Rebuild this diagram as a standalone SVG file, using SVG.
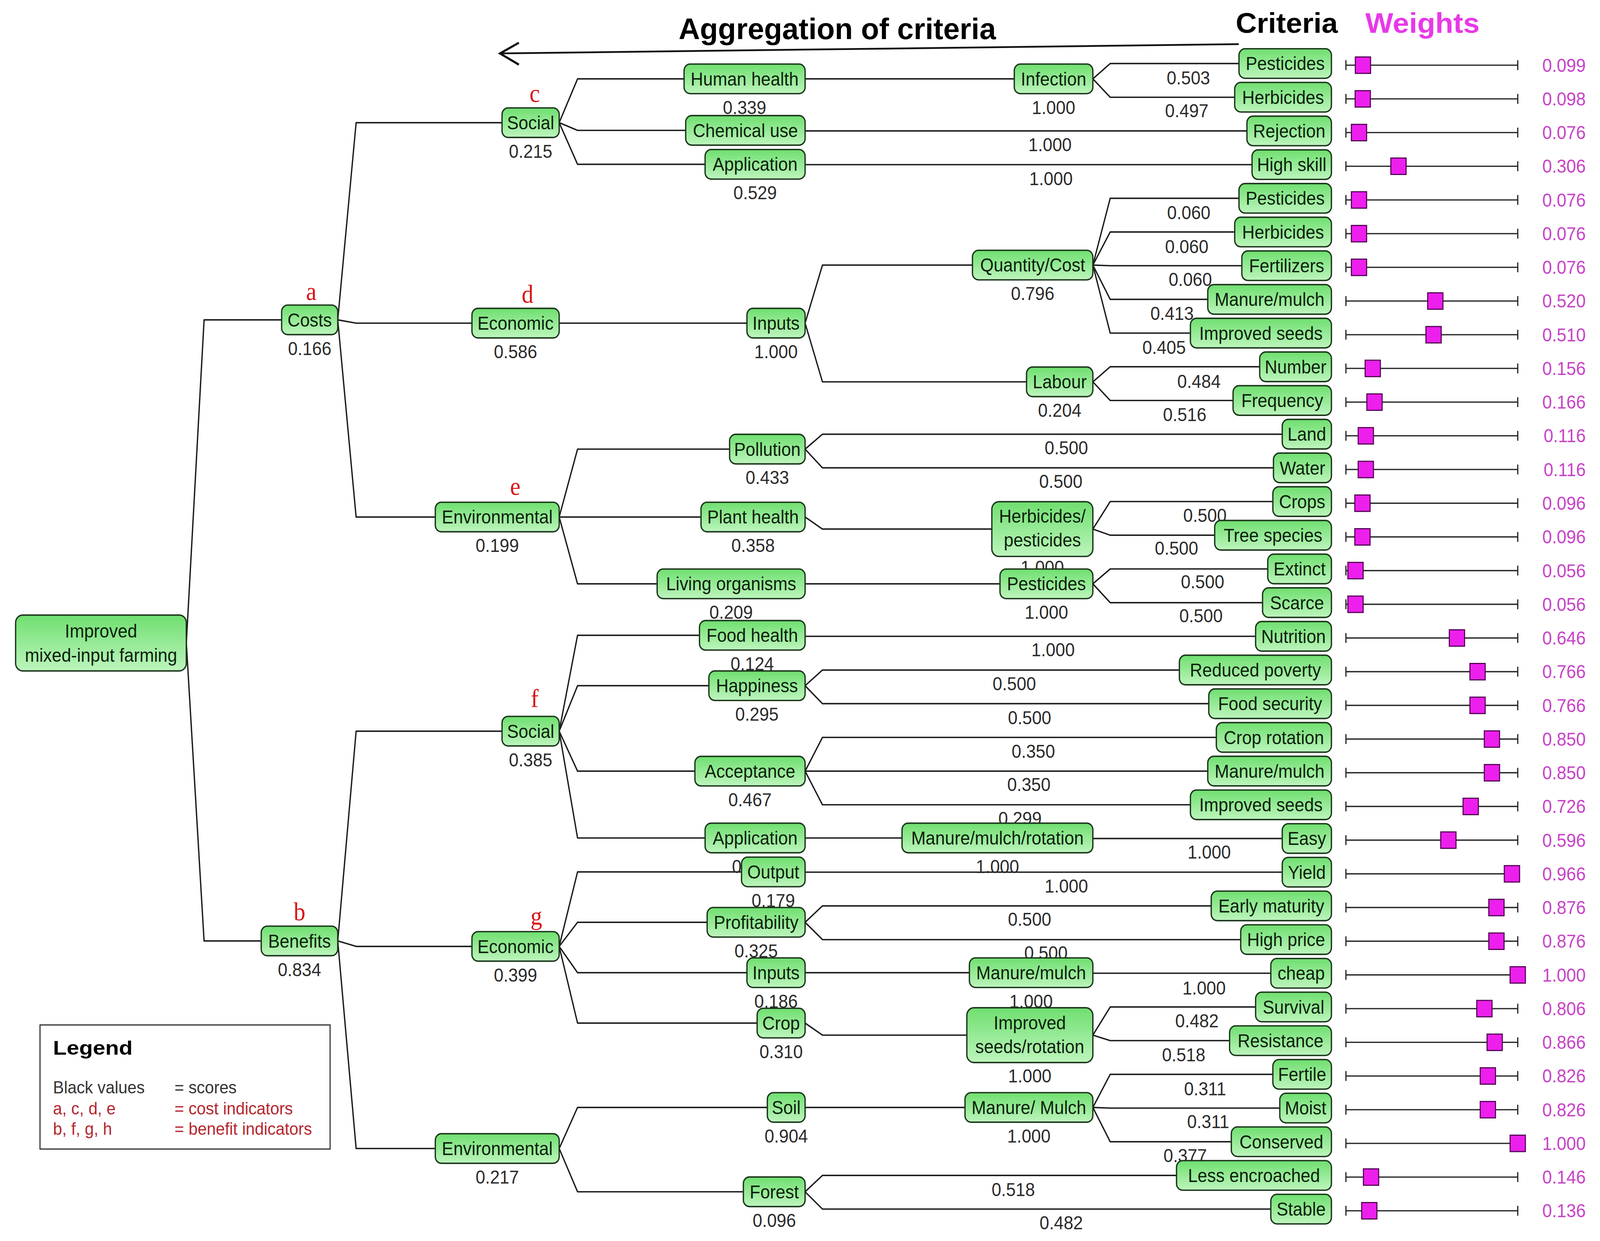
<svg xmlns="http://www.w3.org/2000/svg" xmlns:xlink="http://www.w3.org/1999/xlink" width="4397" height="3177" viewBox="0 0 4397 3177" preserveAspectRatio="none">
<defs>
<linearGradient id="g" x1="0" y1="0" x2="0" y2="1">
<stop offset="0" stop-color="#6fdf6f"/>
<stop offset="1" stop-color="#bdf5bd"/>
</linearGradient>
<g id="bl" class="bar">
<line x1="1319" y1="0" x2="1487.4" y2="0"/>
<line x1="1319" y1="-4.5" x2="1319" y2="4.5"/>
<line x1="1487.4" y1="-4.5" x2="1487.4" y2="4.5"/>
</g>
</defs>
<style>
:root{width:100%;height:100%}
.c{fill:none;stroke:#1b1b1b;stroke-width:1.3;stroke-linejoin:round}
.b{fill:url(#g);stroke:#1d361d;stroke-width:1.3}
.t{font-family:"Liberation Sans",Arial,sans-serif;font-size:17px;fill:#0c1f0c;text-anchor:middle}
.v{font-family:"Liberation Sans",Arial,sans-serif;font-size:17px;fill:#2b2b2b;text-anchor:middle}
.w{font-family:"Liberation Sans",Arial,sans-serif;font-size:17px;fill:#c843c8;text-anchor:end}
.r{font-family:"Liberation Serif","Times New Roman",serif;font-size:23px;fill:#d81414;text-anchor:middle}
.bar line{stroke:#2a2a2a;stroke-width:1.2}
.sq{fill:#ec1fec;stroke:#4d004d;stroke-width:1}
.h{font-family:"Liberation Sans",Arial,sans-serif;font-weight:bold}
.lg{font-family:"Liberation Sans",Arial,sans-serif;font-size:16px}
</style>
<rect x="0" y="0" width="4397" height="3177" fill="#ffffff"/>
<g transform="scale(2.80421)">

<g id="headers">
<text class="h" x="665" y="35.5" font-size="27" textLength="311" lengthAdjust="spacingAndGlyphs">Aggregation of criteria</text>
<text class="h" x="1211" y="30" font-size="26" textLength="100" lengthAdjust="spacingAndGlyphs">Criteria</text>
<text class="h" x="1338" y="30" font-size="26" fill="#e838e8" textLength="112" lengthAdjust="spacingAndGlyphs">Weights</text>
<path d="M1214,40.3 L490,48.8" fill="none" stroke="#111" stroke-width="1.6"/>
<path d="M508.5,39 L490,48.8 L508.5,59" fill="none" stroke="#111" stroke-width="2"/>
</g>

<g id="connectors">
<path class="c" d="M182.6,587 L200,292 L276,292"/>
<path class="c" d="M182.6,587 L200,859 L256,859"/>
<path class="c" d="M331,292 L349,112 L492,112"/>
<path class="c" d="M331,292 L349,295 L462.5,295"/>
<path class="c" d="M331,292 L349,472 L426.6,472"/>
<path class="c" d="M331,859 L349,667.5 L492,667.5"/>
<path class="c" d="M331,859 L349,864 L462.5,864"/>
<path class="c" d="M331,859 L349,1048.5 L426.6,1048.5"/>
<path class="c" d="M548,112 L566,72 L670.4,72"/>
<path class="c" d="M548,112 L566,119 L672,119"/>
<path class="c" d="M548,112 L566,150 L691,150"/>
<path class="c" d="M548,295 L732,295"/>
<path class="c" d="M548,472 L566,410 L715,410"/>
<path class="c" d="M548,472 L687,472"/>
<path class="c" d="M548,472 L566,533 L644,533"/>
<path class="c" d="M548,667.5 L566,580 L685.5,580"/>
<path class="c" d="M548,667.5 L566,626 L694.7,626"/>
<path class="c" d="M548,667.5 L566,704 L681,704"/>
<path class="c" d="M548,667.5 L566,765 L691,765"/>
<path class="c" d="M548,864 L566,796 L726.7,796"/>
<path class="c" d="M548,864 L566,842 L693,842"/>
<path class="c" d="M548,864 L566,888 L732,888"/>
<path class="c" d="M548,864 L566,934 L742,934"/>
<path class="c" d="M548,1048.5 L566,1011 L752,1011"/>
<path class="c" d="M548,1048.5 L566,1088 L728.5,1088"/>
<path class="c" d="M789,72 L994,72"/>
<path class="c" d="M789,119.5 L1222,119.5"/>
<path class="c" d="M789,150.3 L1227,150.3"/>
<path class="c" d="M789,295 L806,242 L953,242"/>
<path class="c" d="M789,295 L806,348.6 L1006,348.6"/>
<path class="c" d="M789,410 L806,396.4 L1256.6,396.4"/>
<path class="c" d="M789,410 L806,427.1 L1248,427.1"/>
<path class="c" d="M789,472 L806,483 L972,483"/>
<path class="c" d="M789,533 L980,533"/>
<path class="c" d="M789,580.9 L1230.5,580.9"/>
<path class="c" d="M789,626 L806,611.7 L1155.8,611.7"/>
<path class="c" d="M789,626 L806,642.4 L1184.6,642.4"/>
<path class="c" d="M789,704 L806,673.2 L1192,673.2"/>
<path class="c" d="M789,704 L1183.6,704"/>
<path class="c" d="M789,704 L806,734.7 L1166.6,734.7"/>
<path class="c" d="M789,765 L884,765"/>
<path class="c" d="M789,796.2 L1256.6,796.2"/>
<path class="c" d="M789,842 L806,827 L1187,827"/>
<path class="c" d="M789,842 L806,857.8 L1215.9,857.8"/>
<path class="c" d="M789,888 L950,888"/>
<path class="c" d="M789,934 L806,945 L947.5,945"/>
<path class="c" d="M789,1011 L945.7,1011"/>
<path class="c" d="M789,1088 L806,1073.1 L1153,1073.1"/>
<path class="c" d="M789,1088 L806,1103.8 L1245.4,1103.8"/>
<path class="c" d="M1071,72 L1088,58 L1214.2,58"/>
<path class="c" d="M1071,72 L1088,88.8 L1210,88.8"/>
<path class="c" d="M1071,242 L1088,181 L1214.2,181"/>
<path class="c" d="M1071,242 L1088,211.8 L1210,211.8"/>
<path class="c" d="M1071,242 L1088,242.6 L1217,242.6"/>
<path class="c" d="M1071,242 L1088,273.3 L1183.6,273.3"/>
<path class="c" d="M1071,242 L1088,304.1 L1166.6,304.1"/>
<path class="c" d="M1071,348.6 L1088,334.8 L1234.5,334.8"/>
<path class="c" d="M1071,348.6 L1088,365.6 L1208.4,365.6"/>
<path class="c" d="M1071,483 L1088,457.9 L1247.4,457.9"/>
<path class="c" d="M1071,483 L1088,488.6 L1190.4,488.6"/>
<path class="c" d="M1071,533 L1088,519.4 L1242.4,519.4"/>
<path class="c" d="M1071,533 L1088,550.2 L1237.3,550.2"/>
<path class="c" d="M1071,765.5 L1256.6,765.5"/>
<path class="c" d="M1071,888.5 L1245.4,888.5"/>
<path class="c" d="M1071,945 L1088,919.3 L1230.5,919.3"/>
<path class="c" d="M1071,945 L1088,950 L1205,950"/>
<path class="c" d="M1071,1011 L1088,980.8 L1247.4,980.8"/>
<path class="c" d="M1071,1011 L1088,1011.6 L1254.2,1011.6"/>
<path class="c" d="M1071,1011 L1088,1042.3 L1206.7,1042.3"/>
</g>

<g id="connector-labels">
<text class="v" x="1164.6" y="77">0.503</text>
<text class="v" x="1163" y="107">0.497</text>
<text class="v" x="1029" y="138">1.000</text>
<text class="v" x="1030" y="169">1.000</text>
<text class="v" x="1165" y="200">0.060</text>
<text class="v" x="1163" y="231">0.060</text>
<text class="v" x="1166.5" y="261">0.060</text>
<text class="v" x="1148.6" y="292">0.413</text>
<text class="v" x="1140.8" y="323">0.405</text>
<text class="v" x="1175" y="354">0.484</text>
<text class="v" x="1161" y="384.6">0.516</text>
<text class="v" x="1045" y="414.6">0.500</text>
<text class="v" x="1039.6" y="445.4">0.500</text>
<text class="v" x="1180.8" y="476.4">0.500</text>
<text class="v" x="1153" y="506.4">0.500</text>
<text class="v" x="1178.5" y="537">0.500</text>
<text class="v" x="1177" y="568">0.500</text>
<text class="v" x="1032" y="599">1.000</text>
<text class="v" x="994" y="630">0.500</text>
<text class="v" x="1009" y="661">0.500</text>
<text class="v" x="1012.7" y="691.7">0.350</text>
<text class="v" x="1008.3" y="722">0.350</text>
<text class="v" x="999.6" y="753">0.299</text>
<text class="v" x="1185" y="784">1.000</text>
<text class="v" x="1045" y="815">1.000</text>
<text class="v" x="1009" y="845">0.500</text>
<text class="v" x="1025" y="876">0.500</text>
<text class="v" x="1180" y="908">1.000</text>
<text class="v" x="1173" y="938">0.482</text>
<text class="v" x="1160" y="969">0.518</text>
<text class="v" x="1181" y="1000">0.311</text>
<text class="v" x="1184" y="1030">0.311</text>
<text class="v" x="1161.5" y="1061">0.377</text>
<text class="v" x="993" y="1092">0.518</text>
<text class="v" x="1040" y="1122.4">0.482</text>
</g>

<g id="n-root"><rect class="b" x="15.3" y="561.5" width="167.3" height="51" rx="7"/><text class="t" x="99" y="582">Improved</text><text class="t" x="99" y="604">mixed-input farming</text></g>

<g id="n-costs"><rect class="b" x="276" y="278.5" width="55" height="27" rx="6"/><text class="t" x="303.5" y="298">Costs</text><text class="v" x="303.5" y="324">0.166</text><text class="r" x="305" y="274">a</text></g>
<g id="n-benefits"><rect class="b" x="256" y="845.5" width="75" height="27" rx="6"/><text class="t" x="293.5" y="865">Benefits</text><text class="v" x="293.5" y="891">0.834</text><text class="r" x="293.5" y="840">b</text></g>

<g id="n-social-c"><rect class="b" x="492" y="98.5" width="56" height="27" rx="6"/><text class="t" x="520" y="118">Social</text><text class="v" x="520" y="144">0.215</text><text class="r" x="524" y="93">c</text></g>
<g id="n-economic-d"><rect class="b" x="462.5" y="281.5" width="85.5" height="27" rx="6"/><text class="t" x="505.2" y="301">Economic</text><text class="v" x="505.2" y="327">0.586</text><text class="r" x="517" y="276.5">d</text></g>
<g id="n-environmental-e"><rect class="b" x="426.6" y="458.5" width="121.4" height="27" rx="6"/><text class="t" x="487.3" y="478">Environmental</text><text class="v" x="487.3" y="504">0.199</text><text class="r" x="505" y="452">e</text></g>
<g id="n-social-f"><rect class="b" x="492" y="654" width="56" height="27" rx="6"/><text class="t" x="520" y="673.5">Social</text><text class="v" x="520" y="699.5">0.385</text><text class="r" x="524" y="645.5">f</text></g>
<g id="n-economic-g"><rect class="b" x="462.5" y="850.5" width="85.5" height="27" rx="6"/><text class="t" x="505.2" y="870">Economic</text><text class="v" x="505.2" y="896">0.399</text><text class="r" x="525.6" y="844">g</text></g>
<g id="n-environmental-h"><rect class="b" x="426.6" y="1035" width="121.4" height="27" rx="6"/><text class="t" x="487.3" y="1054.5">Environmental</text><text class="v" x="487.3" y="1080.5">0.217</text></g>

<g id="n-human-health"><rect class="b" x="670.4" y="58.5" width="118.6" height="27" rx="6"/><text class="t" x="729.7" y="78">Human health</text><text class="v" x="729.7" y="104">0.339</text></g>
<g id="n-chemical-use"><rect class="b" x="672" y="105.5" width="117" height="27" rx="6"/><text class="t" x="730.5" y="125">Chemical use</text></g>
<g id="n-application-c"><rect class="b" x="691" y="136.5" width="98" height="27" rx="6"/><text class="t" x="740" y="156">Application</text><text class="v" x="740" y="182">0.529</text></g>
<g id="n-inputs-d"><rect class="b" x="732" y="281.5" width="57" height="27" rx="6"/><text class="t" x="760.5" y="301">Inputs</text><text class="v" x="760.5" y="327">1.000</text></g>
<g id="n-pollution"><rect class="b" x="715" y="396.5" width="74" height="27" rx="6"/><text class="t" x="752" y="416">Pollution</text><text class="v" x="752" y="442">0.433</text></g>
<g id="n-plant-health"><rect class="b" x="687" y="458.5" width="102" height="27" rx="6"/><text class="t" x="738" y="478">Plant health</text><text class="v" x="738" y="504">0.358</text></g>
<g id="n-living-organisms"><rect class="b" x="644" y="519.5" width="145" height="27" rx="6"/><text class="t" x="716.5" y="539">Living organisms</text><text class="v" x="716.5" y="565">0.209</text></g>
<g id="n-food-health"><rect class="b" x="685.5" y="566.5" width="103.5" height="27" rx="6"/><text class="t" x="737.2" y="586">Food health</text><text class="v" x="737.2" y="612">0.124</text></g>
<g id="n-happiness"><rect class="b" x="694.7" y="612.5" width="94.3" height="27" rx="6"/><text class="t" x="741.8" y="632">Happiness</text><text class="v" x="741.8" y="658">0.295</text></g>
<g id="n-acceptance"><rect class="b" x="681" y="690.5" width="108" height="27" rx="6"/><text class="t" x="735" y="710">Acceptance</text><text class="v" x="735" y="736">0.467</text></g>
<g id="n-application-f"><rect class="b" x="691" y="751.5" width="98" height="27" rx="6"/><text class="t" x="740" y="771">Application</text><text class="v" x="722" y="797">0</text></g>
<g id="n-output"><rect class="b" x="726.7" y="782.5" width="62.3" height="27" rx="6"/><text class="t" x="757.8" y="802">Output</text><text class="v" x="757.8" y="828">0.179</text></g>
<g id="n-profitability"><rect class="b" x="693" y="828.5" width="96" height="27" rx="6"/><text class="t" x="741" y="848">Profitability</text><text class="v" x="741" y="874">0.325</text></g>
<g id="n-inputs-g"><rect class="b" x="732" y="874.5" width="57" height="27" rx="6"/><text class="t" x="760.5" y="894">Inputs</text><text class="v" x="760.5" y="920">0.186</text></g>
<g id="n-crop"><rect class="b" x="742" y="920.5" width="47" height="27" rx="6"/><text class="t" x="765.5" y="940">Crop</text><text class="v" x="765.5" y="966">0.310</text></g>
<g id="n-soil"><rect class="b" x="752" y="997.5" width="37" height="27" rx="6"/><text class="t" x="770.5" y="1017">Soil</text><text class="v" x="770.5" y="1043">0.904</text></g>
<g id="n-forest"><rect class="b" x="728.5" y="1074.5" width="60.5" height="27" rx="6"/><text class="t" x="758.8" y="1094">Forest</text><text class="v" x="758.8" y="1120">0.096</text></g>

<g id="n-infection"><rect class="b" x="994" y="58.5" width="77" height="27" rx="6"/><text class="t" x="1032.5" y="78">Infection</text><text class="v" x="1032.5" y="104">1.000</text></g>
<g id="n-quantity-cost"><rect class="b" x="953" y="228.5" width="118" height="27" rx="6"/><text class="t" x="1012" y="248">Quantity/Cost</text><text class="v" x="1012" y="274">0.796</text></g>
<g id="n-labour"><rect class="b" x="1006" y="335.1" width="65" height="27" rx="6"/><text class="t" x="1038.5" y="354.6">Labour</text><text class="v" x="1038.5" y="380.6">0.204</text></g>
<g id="n-herb-pest"><rect class="b" x="972" y="458" width="99" height="50" rx="7"/><text class="t" x="1021.5" y="477">Herbicides/</text><text class="t" x="1021.5" y="499">pesticides</text><text class="v" x="1021.5" y="524">1.000</text></g>
<g id="n-pesticides-l3"><rect class="b" x="980" y="519.5" width="91" height="27" rx="6"/><text class="t" x="1025.5" y="539">Pesticides</text><text class="v" x="1025.5" y="565">1.000</text></g>
<g id="n-mmr"><rect class="b" x="884" y="751.5" width="187" height="27" rx="6"/><text class="t" x="977.5" y="771">Manure/mulch/rotation</text><text class="v" x="977.5" y="797">1.000</text></g>
<g id="n-manure-mulch-l3"><rect class="b" x="950" y="874.5" width="121" height="27" rx="6"/><text class="t" x="1010.5" y="894">Manure/mulch</text><text class="v" x="1010.5" y="920">1.000</text></g>
<g id="n-seeds-rotation"><rect class="b" x="947.5" y="920" width="123.5" height="50" rx="7"/><text class="t" x="1009.2" y="939.5">Improved</text><text class="t" x="1009.2" y="961.5">seeds/rotation</text><text class="v" x="1009.2" y="988">1.000</text></g>
<g id="n-manure-mulch-soil"><rect class="b" x="945.7" y="997.5" width="125.3" height="27" rx="6"/><text class="t" x="1008.3" y="1017">Manure/ Mulch</text><text class="v" x="1008.3" y="1043">1.000</text></g>

<g id="criteria">
<g id="c00"><rect class="b" x="1214.2" y="44.5" width="90.6" height="27" rx="6"/><text class="t" x="1259.5" y="64">Pesticides</text></g>
<g id="c01"><rect class="b" x="1210" y="75.26" width="94.8" height="27" rx="6"/><text class="t" x="1257.4" y="94.76">Herbicides</text></g>
<g id="c02"><rect class="b" x="1222" y="106.02" width="82.8" height="27" rx="6"/><text class="t" x="1263.4" y="125.52">Rejection</text></g>
<g id="c03"><rect class="b" x="1227" y="136.78" width="77.8" height="27" rx="6"/><text class="t" x="1265.9" y="156.28">High skill</text></g>
<g id="c04"><rect class="b" x="1214.2" y="167.54" width="90.6" height="27" rx="6"/><text class="t" x="1259.5" y="187.04">Pesticides</text></g>
<g id="c05"><rect class="b" x="1210" y="198.3" width="94.8" height="27" rx="6"/><text class="t" x="1257.4" y="217.8">Herbicides</text></g>
<g id="c06"><rect class="b" x="1217" y="229.06" width="87.8" height="27" rx="6"/><text class="t" x="1260.9" y="248.56">Fertilizers</text></g>
<g id="c07"><rect class="b" x="1183.6" y="259.82" width="121.2" height="27" rx="6"/><text class="t" x="1244.2" y="279.32">Manure/mulch</text></g>
<g id="c08"><rect class="b" x="1166.6" y="290.58" width="138.2" height="27" rx="6"/><text class="t" x="1235.7" y="310.08">Improved seeds</text></g>
<g id="c09"><rect class="b" x="1234.5" y="321.34" width="70.3" height="27" rx="6"/><text class="t" x="1269.65" y="340.84">Number</text></g>
<g id="c10"><rect class="b" x="1208.4" y="352.1" width="96.4" height="27" rx="6"/><text class="t" x="1256.6" y="371.6">Frequency</text></g>
<g id="c11"><rect class="b" x="1256.6" y="382.86" width="48.2" height="27" rx="6"/><text class="t" x="1280.7" y="402.36">Land</text></g>
<g id="c12"><rect class="b" x="1248" y="413.62" width="56.8" height="27" rx="6"/><text class="t" x="1276.4" y="433.12">Water</text></g>
<g id="c13"><rect class="b" x="1247.4" y="444.38" width="57.4" height="27" rx="6"/><text class="t" x="1276.1" y="463.88">Crops</text></g>
<g id="c14"><rect class="b" x="1190.4" y="475.14" width="114.4" height="27" rx="6"/><text class="t" x="1247.6" y="494.64">Tree species</text></g>
<g id="c15"><rect class="b" x="1242.4" y="505.9" width="62.4" height="27" rx="6"/><text class="t" x="1273.6" y="525.4">Extinct</text></g>
<g id="c16"><rect class="b" x="1237.3" y="536.66" width="67.5" height="27" rx="6"/><text class="t" x="1271.05" y="556.16">Scarce</text></g>
<g id="c17"><rect class="b" x="1230.5" y="567.42" width="74.3" height="27" rx="6"/><text class="t" x="1267.65" y="586.92">Nutrition</text></g>
<g id="c18"><rect class="b" x="1155.8" y="598.18" width="149" height="27" rx="6"/><text class="t" x="1230.3" y="617.68">Reduced poverty</text></g>
<g id="c19"><rect class="b" x="1184.6" y="628.94" width="120.2" height="27" rx="6"/><text class="t" x="1244.7" y="648.44">Food security</text></g>
<g id="c20"><rect class="b" x="1192" y="659.7" width="112.8" height="27" rx="6"/><text class="t" x="1248.4" y="679.2">Crop rotation</text></g>
<g id="c21"><rect class="b" x="1183.6" y="690.46" width="121.2" height="27" rx="6"/><text class="t" x="1244.2" y="709.96">Manure/mulch</text></g>
<g id="c22"><rect class="b" x="1166.6" y="721.22" width="138.2" height="27" rx="6"/><text class="t" x="1235.7" y="740.72">Improved seeds</text></g>
<g id="c23"><rect class="b" x="1256.6" y="751.98" width="48.2" height="27" rx="6"/><text class="t" x="1280.7" y="771.48">Easy</text></g>
<g id="c24"><rect class="b" x="1256.6" y="782.74" width="48.2" height="27" rx="6"/><text class="t" x="1280.7" y="802.24">Yield</text></g>
<g id="c25"><rect class="b" x="1187" y="813.5" width="117.8" height="27" rx="6"/><text class="t" x="1245.9" y="833">Early maturity</text></g>
<g id="c26"><rect class="b" x="1215.9" y="844.26" width="88.9" height="27" rx="6"/><text class="t" x="1260.35" y="863.76">High price</text></g>
<g id="c27"><rect class="b" x="1245.4" y="875.02" width="59.4" height="27" rx="6"/><text class="t" x="1275.1" y="894.52">cheap</text></g>
<g id="c28"><rect class="b" x="1230.5" y="905.78" width="74.3" height="27" rx="6"/><text class="t" x="1267.65" y="925.28">Survival</text></g>
<g id="c29"><rect class="b" x="1205" y="936.54" width="99.8" height="27" rx="6"/><text class="t" x="1254.9" y="956.04">Resistance</text></g>
<g id="c30"><rect class="b" x="1247.4" y="967.3" width="57.4" height="27" rx="6"/><text class="t" x="1276.1" y="986.8">Fertile</text></g>
<g id="c31"><rect class="b" x="1254.2" y="998.06" width="50.6" height="27" rx="6"/><text class="t" x="1279.5" y="1017.56">Moist</text></g>
<g id="c32"><rect class="b" x="1206.7" y="1028.82" width="98.1" height="27" rx="6"/><text class="t" x="1255.75" y="1048.32">Conserved</text></g>
<g id="c33"><rect class="b" x="1153" y="1059.58" width="151.8" height="27" rx="6"/><text class="t" x="1228.9" y="1079.08">Less encroached</text></g>
<g id="c34"><rect class="b" x="1245.4" y="1090.34" width="59.4" height="27" rx="6"/><text class="t" x="1275.1" y="1109.84">Stable</text></g>
</g>

<g id="weights">
<use xlink:href="#bl" y="59.5"/><rect class="sq" x="1328.2" y="52" width="15" height="15"/><text class="w" x="1554" y="65.5">0.099</text>
<use xlink:href="#bl" y="90.26"/><rect class="sq" x="1328" y="82.76" width="15" height="15"/><text class="w" x="1554" y="96.26">0.098</text>
<use xlink:href="#bl" y="121.02"/><rect class="sq" x="1324.3" y="113.52" width="15" height="15"/><text class="w" x="1554" y="127.02">0.076</text>
<use xlink:href="#bl" y="151.78"/><rect class="sq" x="1363" y="144.28" width="15" height="15"/><text class="w" x="1554" y="157.78">0.306</text>
<use xlink:href="#bl" y="182.54"/><rect class="sq" x="1324.3" y="175.04" width="15" height="15"/><text class="w" x="1554" y="188.54">0.076</text>
<use xlink:href="#bl" y="213.3"/><rect class="sq" x="1324.3" y="205.8" width="15" height="15"/><text class="w" x="1554" y="219.3">0.076</text>
<use xlink:href="#bl" y="244.06"/><rect class="sq" x="1324.3" y="236.56" width="15" height="15"/><text class="w" x="1554" y="250.06">0.076</text>
<use xlink:href="#bl" y="274.82"/><rect class="sq" x="1399.1" y="267.32" width="15" height="15"/><text class="w" x="1554" y="280.82">0.520</text>
<use xlink:href="#bl" y="305.58"/><rect class="sq" x="1397.4" y="298.08" width="15" height="15"/><text class="w" x="1554" y="311.58">0.510</text>
<use xlink:href="#bl" y="336.34"/><rect class="sq" x="1337.8" y="328.84" width="15" height="15"/><text class="w" x="1554" y="342.34">0.156</text>
<use xlink:href="#bl" y="367.1"/><rect class="sq" x="1339.5" y="359.6" width="15" height="15"/><text class="w" x="1554" y="373.1">0.166</text>
<use xlink:href="#bl" y="397.86"/><rect class="sq" x="1331" y="390.36" width="15" height="15"/><text class="w" x="1554" y="403.86">0.116</text>
<use xlink:href="#bl" y="428.62"/><rect class="sq" x="1331" y="421.12" width="15" height="15"/><text class="w" x="1554" y="434.62">0.116</text>
<use xlink:href="#bl" y="459.38"/><rect class="sq" x="1327.7" y="451.88" width="15" height="15"/><text class="w" x="1554" y="465.38">0.096</text>
<use xlink:href="#bl" y="490.14"/><rect class="sq" x="1327.7" y="482.64" width="15" height="15"/><text class="w" x="1554" y="496.14">0.096</text>
<use xlink:href="#bl" y="520.9"/><rect class="sq" x="1320.9" y="513.4" width="15" height="15"/><text class="w" x="1554" y="526.9">0.056</text>
<use xlink:href="#bl" y="551.66"/><rect class="sq" x="1320.9" y="544.16" width="15" height="15"/><text class="w" x="1554" y="557.66">0.056</text>
<use xlink:href="#bl" y="582.42"/><rect class="sq" x="1420.3" y="574.92" width="15" height="15"/><text class="w" x="1554" y="588.42">0.646</text>
<use xlink:href="#bl" y="613.18"/><rect class="sq" x="1440.5" y="605.68" width="15" height="15"/><text class="w" x="1554" y="619.18">0.766</text>
<use xlink:href="#bl" y="643.94"/><rect class="sq" x="1440.5" y="636.44" width="15" height="15"/><text class="w" x="1554" y="649.94">0.766</text>
<use xlink:href="#bl" y="674.7"/><rect class="sq" x="1454.6" y="667.2" width="15" height="15"/><text class="w" x="1554" y="680.7">0.850</text>
<use xlink:href="#bl" y="705.46"/><rect class="sq" x="1454.6" y="697.96" width="15" height="15"/><text class="w" x="1554" y="711.46">0.850</text>
<use xlink:href="#bl" y="736.22"/><rect class="sq" x="1433.8" y="728.72" width="15" height="15"/><text class="w" x="1554" y="742.22">0.726</text>
<use xlink:href="#bl" y="766.98"/><rect class="sq" x="1411.9" y="759.48" width="15" height="15"/><text class="w" x="1554" y="772.98">0.596</text>
<use xlink:href="#bl" y="797.74"/><rect class="sq" x="1474.2" y="790.24" width="15" height="15"/><text class="w" x="1554" y="803.74">0.966</text>
<use xlink:href="#bl" y="828.5"/><rect class="sq" x="1459" y="821" width="15" height="15"/><text class="w" x="1554" y="834.5">0.876</text>
<use xlink:href="#bl" y="859.26"/><rect class="sq" x="1459" y="851.76" width="15" height="15"/><text class="w" x="1554" y="865.26">0.876</text>
<use xlink:href="#bl" y="890.02"/><rect class="sq" x="1479.9" y="882.52" width="15" height="15"/><text class="w" x="1554" y="896.02">1.000</text>
<use xlink:href="#bl" y="920.78"/><rect class="sq" x="1447.2" y="913.28" width="15" height="15"/><text class="w" x="1554" y="926.78">0.806</text>
<use xlink:href="#bl" y="951.54"/><rect class="sq" x="1457.3" y="944.04" width="15" height="15"/><text class="w" x="1554" y="957.54">0.866</text>
<use xlink:href="#bl" y="982.3"/><rect class="sq" x="1450.6" y="974.8" width="15" height="15"/><text class="w" x="1554" y="988.3">0.826</text>
<use xlink:href="#bl" y="1013.06"/><rect class="sq" x="1450.6" y="1005.56" width="15" height="15"/><text class="w" x="1554" y="1019.06">0.826</text>
<use xlink:href="#bl" y="1043.82"/><rect class="sq" x="1479.9" y="1036.32" width="15" height="15"/><text class="w" x="1554" y="1049.82">1.000</text>
<use xlink:href="#bl" y="1074.58"/><rect class="sq" x="1336.1" y="1067.08" width="15" height="15"/><text class="w" x="1554" y="1080.58">0.146</text>
<use xlink:href="#bl" y="1105.34"/><rect class="sq" x="1334.4" y="1097.84" width="15" height="15"/><text class="w" x="1554" y="1111.34">0.136</text>
</g>

<g id="legend">
<rect x="39.2" y="935.7" width="284.3" height="113.3" fill="#ffffff" stroke="#333" stroke-width="1.1"/>
<text class="h" x="52" y="963" font-size="18" textLength="78" lengthAdjust="spacingAndGlyphs">Legend</text>
<text class="lg" x="52" y="998" fill="#333">Black values</text>
<text class="lg" x="171" y="998" fill="#333">= scores</text>
<text class="lg" x="52" y="1017.5" fill="#b5262e">a, c, d, e</text>
<text class="lg" x="171" y="1017.5" fill="#b5262e">= cost indicators</text>
<text class="lg" x="52" y="1036" fill="#b5262e">b, f, g, h</text>
<text class="lg" x="171" y="1036" fill="#b5262e">= benefit indicators</text>
</g>

</g>
</svg>
